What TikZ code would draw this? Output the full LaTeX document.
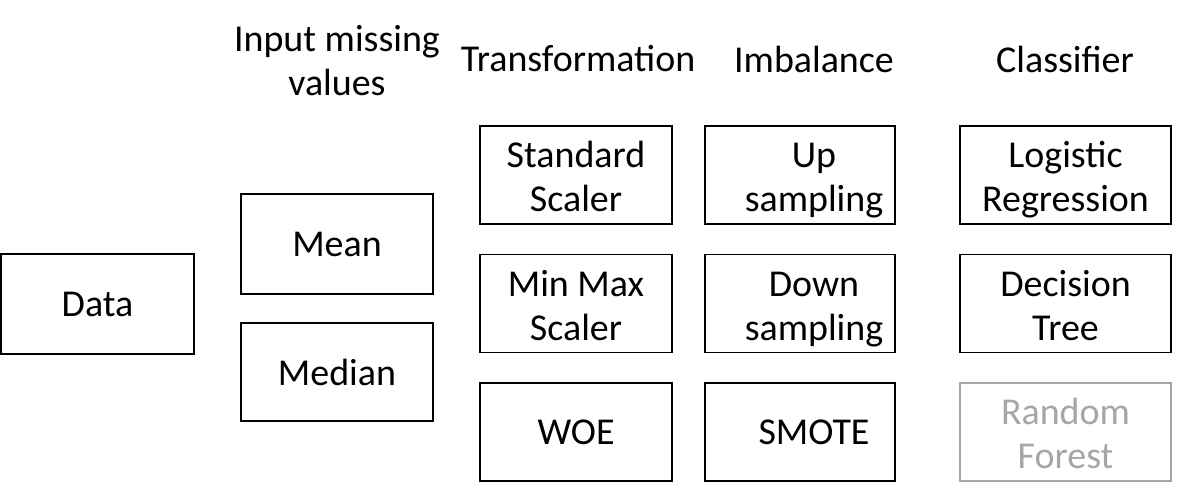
\documentclass[tikz,border=0pt]{standalone}
\usepackage{fontspec}
\setmainfont{Carlito}
\newcommand{\linestrut}{\rule[-4pt]{0pt}{25pt}}
\newcommand{\stacklines}[2]{\linestrut#1\\\linestrut#2}
\begin{document}
\begin{tikzpicture}[x=0.02cm, y=-0.02cm, every node/.style={font=\fontsize{21.6}{25}\selectfont, align=center}]
	\tikzset{stagebox/.style={draw, line width=1.1pt, minimum height=1.96cm, inner sep=0pt},
		offbox/.style={stagebox, draw=black!35, text=black!35},
		offtext/.style={label={[xshift=0.28cm]center:#1}}}
	\useasboundingbox (0,0) rectangle (1199,501);
	\node[stagebox, minimum width=3.86cm, minimum height=2cm] (data) at (97.5,304) {Data};
	% input missing values
	\node (hinput) at (337,59) {\stacklines{Input missing}{values}};
	\node[stagebox, minimum width=3.84cm, minimum height=2cm] (mean) at (337,244) {Mean};
	\node[stagebox, minimum width=3.84cm] (median) at (337,372) {Median};
	% transformation
	\node (htrans) at (578,59) {Transformation};
	\node[stagebox, minimum width=3.84cm] (std) at (576,175) {\stacklines{Standard}{Scaler}};
	\node[stagebox, minimum width=3.84cm] (minmax) at (576,303.5) {\stacklines{Min Max}{Scaler}};
	\node[stagebox, minimum width=3.84cm] (woe) at (576,432) {WOE};
	% imbalance (text sits right of the box centre)
	\node (himb) at (814,59) {Imbalance};
	\node[stagebox, minimum width=3.8cm, offtext={\stacklines{Up}{sampling}}] (up) at (800,175) {};
	\node[stagebox, minimum width=3.8cm, offtext={\stacklines{Down}{sampling}}] (down) at (800,303.5) {};
	\node[stagebox, minimum width=3.8cm, offtext={SMOTE}] (smote) at (800,432) {};
	% classifier
	\node (hclass) at (1065,59) {Classifier};
	\node[stagebox, minimum width=4.22cm] (logit) at (1065.5,175) {\stacklines{Logistic}{Regression}};
	\node[stagebox, minimum width=4.22cm] (tree) at (1065.5,303.5) {\stacklines{Decision}{Tree}};
	\node[offbox, minimum width=4.22cm] (forest) at (1065.5,432) {\stacklines{Random}{Forest}};
\end{tikzpicture}
\end{document}
